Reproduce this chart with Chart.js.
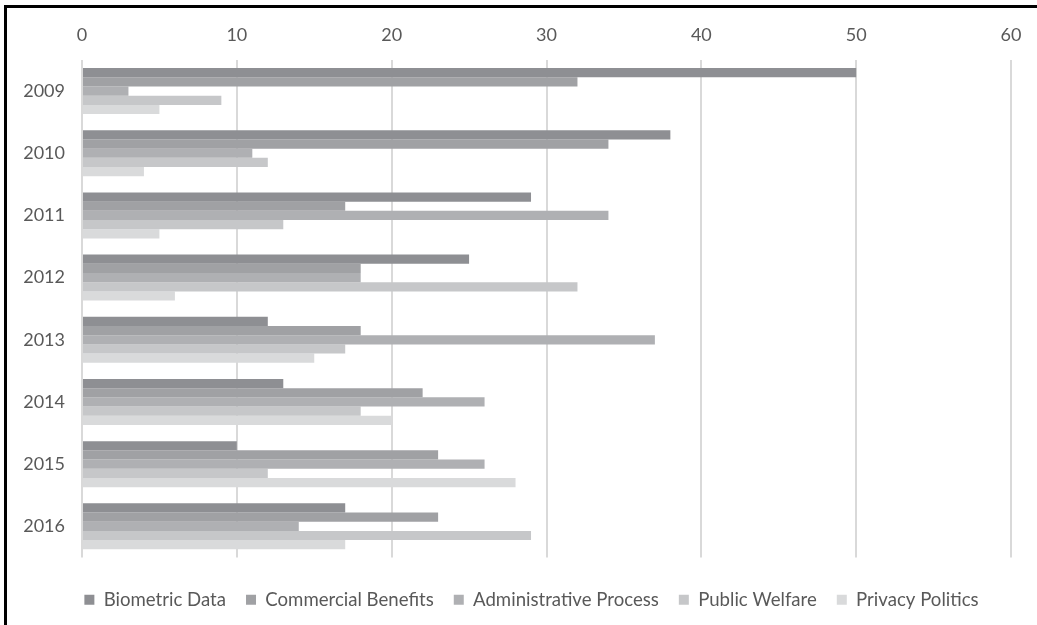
<!DOCTYPE html>
<html>
<head>
<meta charset="utf-8">
<script src="https://cdn.jsdelivr.net/npm/chart.js@4"></script>
<style>
    html, body { margin: 0; padding: 0; background: #ffffff; }
    .wrap { position: relative; width: 1037px; height: 625px; }
    .frame {
        position: absolute; left: 4px; top: 5px; right: 0; bottom: 0;
        border-top: 3px solid #000; border-left: 3px solid #000;
        pointer-events: none;
    }
</style>
</head>
<body>
<div class="wrap">
    <canvas id="chart" width="1037" height="625"></canvas>
    <div class="frame"></div>
</div>
<script>
// Données
const years = ['2009', '2010', '2011', '2012', '2013', '2014', '2015', '2016'];
const seriesNames = ['Biometric Data', 'Commercial Benefits', 'Administrative Process', 'Public Welfare', 'Privacy Politics'];
const biometricData = [50, 38, 29, 25, 12, 13, 10, 17];
const commercialBenefits = [32, 34, 17, 18, 18, 22, 23, 23];
const administrativeProcess = [3, 11, 34, 18, 37, 26, 26, 14];
const publicWelfare = [9, 12, 13, 32, 17, 18, 12, 29];
const privacyPolitics = [5, 4, 5, 6, 15, 20, 28, 17];
const xTicks = [0, 10, 20, 30, 40, 50, 60];

const seriesColors = ['#8e8f93', '#a0a1a4', '#afb0b3', '#c6c7c9', '#d9dadb'];
const textColor = '#595959';
const fontFamily = 'Lato, "Open Sans", sans-serif';

document.addEventListener('DOMContentLoaded', function() {
    initializeChart();
});

// Décale la légende (centrée plus à droite et plus bas dans l'original)
const legendShift = {
    id: 'legendShift',
    afterLayout(chart) {
        const lg = chart.legend;
        if (!lg) return;
        lg.left += 26;
        lg.right += 26;
        lg.top += 13;
        lg.bottom += 13;
    }
};

function initializeChart() {
    const ctx = document.getElementById('chart').getContext('2d');
    const values = [biometricData, commercialBenefits, administrativeProcess, publicWelfare, privacyPolitics];

    const datasets = seriesNames.map((name, i) => ({
        label: name,
        data: values[i],
        backgroundColor: seriesColors[i],
        borderWidth: 0,
        categoryPercentage: 0.74,
        barPercentage: 1.0
    }));

    new Chart(ctx, {
        type: 'bar',
        data: { labels: years, datasets: datasets },
        options: {
            indexAxis: 'y',
            responsive: false,
            animation: false,
            layout: {
                padding: { left: 0, right: 26, top: 8, bottom: 19 }
            },
            plugins: {
                legend: {
                    position: 'bottom',
                    labels: {
                        color: textColor,
                        font: { family: fontFamily, size: 18.6 },
                        boxWidth: 10,
                        boxHeight: 10,
                        padding: 20
                    }
                },
                tooltip: { enabled: false }
            },
            scales: {
                x: {
                    position: 'top',
                    min: 0,
                    max: 60,
                    afterBuildTicks: function(scale) {
                        scale.ticks = xTicks.map(v => ({ value: v }));
                    },
                    afterFit: function(scale) {
                        scale.height = 52;
                    },
                    grid: {
                        color: '#d9d9d9',
                        lineWidth: 2,
                        drawTicks: false
                    },
                    border: { display: false },
                    ticks: {
                        color: textColor,
                        font: { family: fontFamily, size: 18 },
                        padding: 14
                    }
                },
                y: {
                    afterFit: function(scale) {
                        scale.width = 82;
                    },
                    grid: { display: false, drawTicks: false },
                    border: { display: false },
                    ticks: {
                        color: textColor,
                        font: { family: fontFamily, size: 18 },
                        padding: 17
                    }
                }
            }
        },
        plugins: [legendShift]
    });
}
</script>
</body>
</html>
